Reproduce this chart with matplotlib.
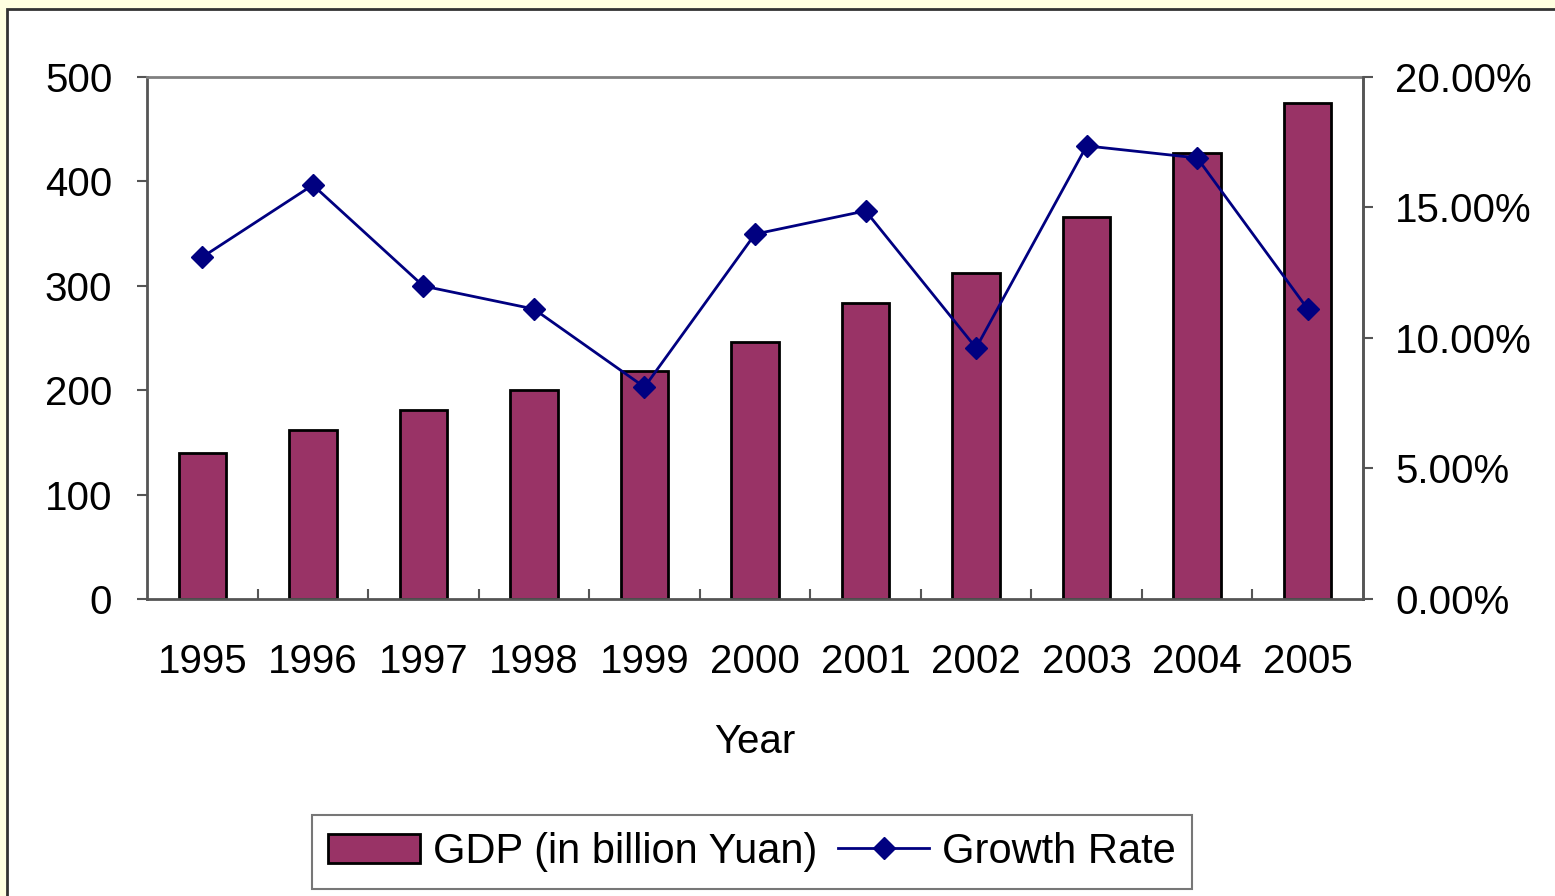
import matplotlib.pyplot as plt
from matplotlib.patches import Rectangle
from matplotlib.ticker import FuncFormatter, MultipleLocator, FixedLocator
import numpy as np

plt.rcParams['font.family'] = ['Liberation Sans', 'DejaVu Sans']

# Datos
anios = ["1995", "1996", "1997", "1998", "1999", "2000", "2001", "2002", "2003", "2004", "2005"]
pib = [140, 162, 181, 200, 218, 246, 284, 312, 366, 427, 475]
crecimiento = [13.1, 15.86, 11.99, 11.11, 8.12, 13.98, 14.87, 9.62, 17.36, 16.90, 11.11]

W, H = 1555, 896
fig = plt.figure(figsize=(W / 100, H / 100), dpi=100)
fig.patch.set_facecolor("#FFFFE0")

# panel blanco con borde
fig.patches.append(Rectangle((7 / W, -0.1), 1.2, 1 - 9 / H + 0.1, transform=fig.transFigure,
                             facecolor="white", edgecolor="#333333", linewidth=2, zorder=-5))

ax = fig.add_axes([147 / W, 1 - 599 / H, (1363 - 147) / W, (599 - 77) / H])
ax.set_facecolor("white")
x = np.arange(len(anios))
ax.bar(x, pib, width=0.43, color="#993366", edgecolor="black", linewidth=2,
       label="GDP (in billion Yuan)", zorder=2)
ax.set_xlim(-0.5, len(anios) - 0.5)
ax.set_ylim(0, 500)
ax.yaxis.set_major_locator(MultipleLocator(100))
ax.set_xticks(x)
ax.set_xticklabels(anios)
ax.tick_params(axis="x", length=0, labelsize=29, pad=32)
ax.xaxis.set_minor_locator(FixedLocator(np.arange(0.5, len(anios) - 1, 1)))
ax.tick_params(axis="x", which="minor", direction="in", length=7, color="#555555", width=1.5)
ax.tick_params(axis="y", direction="out", length=7, color="#555555", width=1.5, labelsize=29, pad=18)
for s in ax.spines.values():
    s.set_color("#808080")
    s.set_linewidth(2)
ax.spines["bottom"].set_color("#555555")
ax.spines["left"].set_color("#555555")
ax.set_xlabel("Year", fontsize=29, labelpad=30)

ax2 = ax.twinx()
ax2.plot(x, crecimiento, color="#000080", linewidth=2, marker="D", markersize=11,
         label="Growth Rate", zorder=3)
ax2.set_ylim(0, 20)
ax2.yaxis.set_major_locator(MultipleLocator(5))
ax2.yaxis.set_major_formatter(FuncFormatter(lambda v, p: f"{v:.2f}%"))
ax2.tick_params(axis="y", direction="out", length=7, color="#555555", width=1.5, labelsize=29, pad=16)
for s in ax2.spines.values():
    s.set_visible(False)
ax2.spines["right"].set_visible(True)
ax2.spines["right"].set_color("#555555")
ax2.spines["right"].set_linewidth(2)

h1, l1 = ax.get_legend_handles_labels()
h2, l2 = ax2.get_legend_handles_labels()
leg = fig.legend(h1 + h2, l1 + l2, loc="center", bbox_to_anchor=(752 / W, 1 - 852 / H), ncol=2,
                 fontsize=30, frameon=True, fancybox=False, edgecolor="#555555",
                 handlelength=2.2, handletextpad=0.3, columnspacing=0.5, borderpad=0.4)
leg.get_frame().set_linewidth(1.5)

fig.savefig("out.png", dpi=100, facecolor=fig.get_facecolor())
